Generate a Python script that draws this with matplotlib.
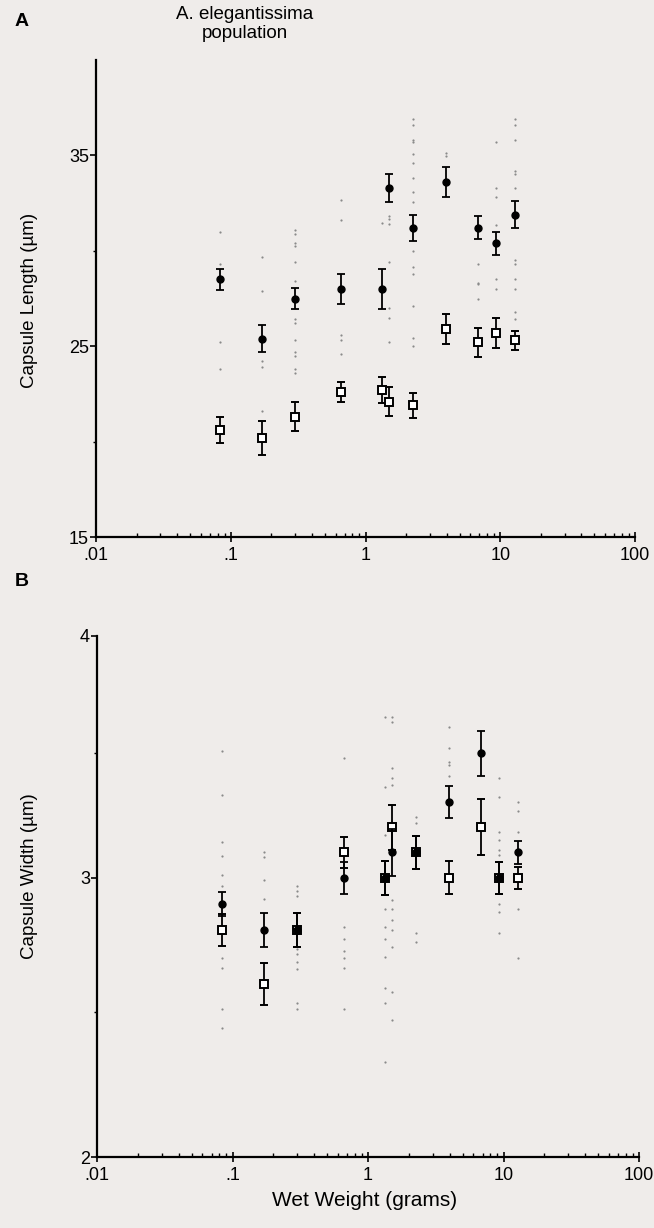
import matplotlib
matplotlib.use("Agg")
import numpy as np
import matplotlib.pyplot as plt
from matplotlib.ticker import FixedLocator, FixedFormatter, LogLocator, NullFormatter

plt.rcParams['font.family'] = ['Liberation Sans', 'DejaVu Sans']

# wet weight of each group (grams)
weights = [0.083, 0.17, 0.30, 0.66, 1.33, 1.5, 2.25, 3.95, 6.85, 9.3, 12.9]

# A: capsule length (um), means and error
len_circ = [28.5, 25.4, 27.5, 28.0, 28.0, 33.3, 31.2, 33.6, 31.2, 30.4, 31.9]
len_circ_err = [0.55, 0.7, 0.55, 0.8, 1.05, 0.73, 0.68, 0.8, 0.6, 0.6, 0.73]
len_sq = [20.6, 20.2, 21.3, 22.6, 22.7, 22.1, 21.9, 25.9, 25.2, 25.7, 25.3]
len_sq_err = [0.68, 0.9, 0.75, 0.5, 0.7, 0.75, 0.65, 0.8, 0.75, 0.8, 0.5]

# A: single measurements
len_dots = [
    [31.0, 29.3, 25.2, 23.8],
    [29.7, 27.9, 24.2, 23.9, 21.6],
    [31.1, 30.9, 30.4, 30.25, 29.4, 28.4, 26.4, 26.2, 25.3, 24.7, 24.5, 23.8, 23.6],
    [32.65, 31.6, 25.6, 25.3, 24.6],
    [31.45],
    [31.8, 31.65, 31.4, 29.4, 27.0, 26.5, 25.2],
    [36.9, 36.6, 35.8, 35.7, 35.05, 34.6, 33.8, 33.1, 32.55, 30.0, 29.15, 28.8, 27.1, 25.45, 25.0],
    [35.15, 34.95],
    [29.3, 28.3, 28.25, 27.5],
    [35.7, 33.3, 32.8, 31.35, 28.5, 28.0],
    [36.9, 36.6, 35.8, 34.2, 34.05, 33.3, 29.5, 29.3, 28.5, 28.0, 26.8, 26.4],
]

# B: capsule width (um)
wid_circ = [2.9, 2.8, 2.8, 3.0, 3.0, 3.1, 3.1, 3.3, 3.5, 3.0, 3.1]
wid_circ_err = [0.046, 0.065, 0.065, 0.063, 0.067, 0.092, 0.066, 0.065, 0.094, 0.062, 0.044]
wid_sq = [2.8, 2.6, 2.8, 3.1, 3.0, 3.2, 3.1, 3.0, 3.2, 3.0, 3.0]
wid_sq_err = [0.06, 0.077, 0.063, 0.06, 0.066, 0.09, 0.066, 0.064, 0.112, 0.062, 0.044]

wid_dots = [
    [3.51, 3.33, 3.14, 3.085, 3.01, 2.97, 2.695, 2.66, 2.51, 2.44],
    [3.10, 3.08, 2.99, 2.92],
    [2.97, 2.95, 2.93, 2.73, 2.71, 2.68, 2.655, 2.53, 2.51],
    [3.48, 2.81, 2.765, 2.72, 2.695, 2.66, 2.51],
    [3.65, 3.36, 3.17, 2.88, 2.81, 2.765, 2.70, 2.585, 2.53, 2.32],
    [3.65, 3.63, 3.44, 3.40, 3.37, 2.915, 2.88, 2.84, 2.80, 2.735, 2.57, 2.47],
    [3.24, 3.215, 2.79, 2.755],
    [3.61, 3.52, 3.465, 3.45, 3.405],
    [],
    [3.40, 3.32, 3.18, 3.15, 3.11, 3.09, 2.90, 2.87, 2.79],
    [3.30, 3.265, 3.18, 2.88, 2.695],
]

xticks = [0.01, 0.1, 1, 10, 100]
xlabels = ['.01', '.1', '1', '10', '100']

bg = '#efecea'
W, H = 654, 1228
fig = plt.figure(figsize=(W / 100, H / 100), dpi=100, facecolor=bg)
axA = fig.add_axes([96 / W, 1 - 537 / H, (635 - 96) / W, (537 - 60) / H])
axB = fig.add_axes([97 / W, 1 - 1157 / H, (639 - 97) / W, (1157 - 636) / H])


def draw(ax, dots, circ, circ_err, sq, sq_err):
    for w, col in zip(weights, dots):
        ax.plot([w] * len(col), col, ls='none', marker='o', ms=1.6,
                mfc='#8a8a8a', mec='none', zorder=2)
    ax.errorbar(weights, sq, yerr=sq_err, fmt='s', ms=6, mfc='white',
                mec='black', mew=1.4, ecolor='black', elinewidth=1.3,
                capsize=3, capthick=1.3, zorder=3)
    ax.errorbar(weights, circ, yerr=circ_err, fmt='o', ms=5, mfc='black',
                mec='black', ecolor='black', elinewidth=1.3,
                capsize=3, capthick=1.3, zorder=4)
    ax.set_facecolor(bg)
    ax.set_xscale('log')
    ax.set_xlim(0.01, 100)
    ax.xaxis.set_major_locator(FixedLocator(xticks))
    ax.xaxis.set_major_formatter(FixedFormatter(xlabels))
    ax.xaxis.set_minor_locator(LogLocator(base=10, subs=range(2, 10)))
    ax.xaxis.set_minor_formatter(NullFormatter())
    for s in ['top', 'right']:
        ax.spines[s].set_visible(False)
    for s in ['left', 'bottom']:
        ax.spines[s].set_linewidth(1.6)
    ax.tick_params(axis='x', which='major', direction='inout', length=7,
                   width=1.2, labelsize=13, pad=4)
    ax.tick_params(axis='x', which='minor', direction='in', length=3, width=1)
    ax.tick_params(axis='y', which='major', direction='out', length=4,
                   width=1.2, labelsize=13, pad=1)
    ax.tick_params(axis='y', which='minor', direction='out', length=2, width=1)


draw(axA, len_dots, len_circ, len_circ_err, len_sq, len_sq_err)
axA.set_ylim(15, 40)
axA.set_yticks([15, 25, 35])
axA.set_yticks([20, 30], minor=True)
axA.set_ylabel('Capsule Length (\u00b5m)', fontsize=13.5)
axA.yaxis.set_label_coords(38 / W, 1 - 300 / H, transform=fig.transFigure)

draw(axB, wid_dots, wid_circ, wid_circ_err, wid_sq, wid_sq_err)
# the printed width axis is not evenly spaced between 2, 3 and 4
axB.set_yscale('function', functions=(lambda v: np.power(np.clip(v, 1e-6, None), 0.58),
                                      lambda s: np.power(np.clip(s, 1e-6, None), 1 / 0.58)))
axB.set_ylim(2, 4)
axB.yaxis.set_major_locator(FixedLocator([2, 3, 4]))
axB.yaxis.set_major_formatter(FixedFormatter(['2', '3', '4']))
axB.yaxis.set_minor_locator(FixedLocator([2.5, 3.5]))
axB.yaxis.set_minor_formatter(NullFormatter())
axB.set_ylabel('Capsule Width (\u00b5m)', fontsize=13.5)
axB.yaxis.set_label_coords(38 / W, 1 - 876 / H, transform=fig.transFigure)
axB.set_xlabel('Wet Weight (grams)', fontsize=15, va='center')
axB.xaxis.set_label_coords(365 / W, 1 - 1201 / H, transform=fig.transFigure)

fig.text(15 / W, 1 - 22 / H, 'A', fontsize=14, fontweight='bold', va='center')
fig.text(15 / W, 1 - 582 / H, 'B', fontsize=14, fontweight='bold', va='center')
fig.text(245 / W, 1 - 24 / H, 'A. elegantissima\npopulation', fontsize=13.5,
         ha='center', va='center', linespacing=1.2)

fig.savefig('out.png', dpi=100, facecolor=bg)
